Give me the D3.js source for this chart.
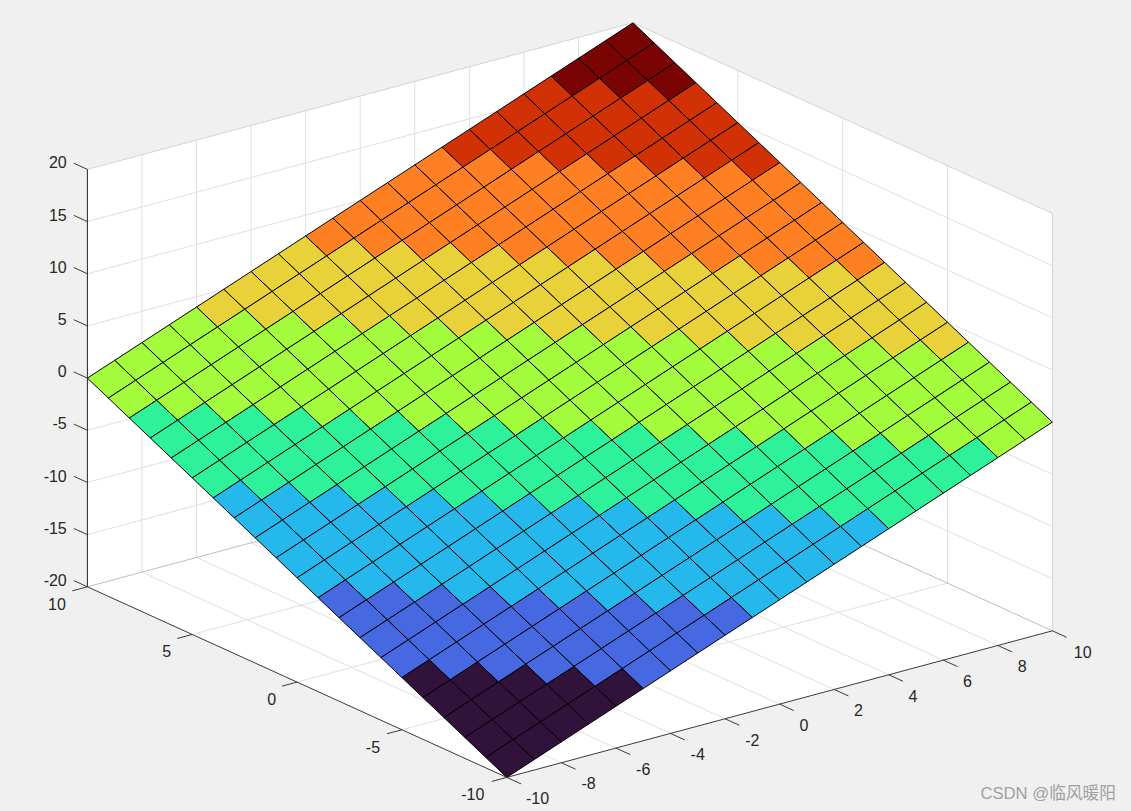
<!DOCTYPE html>
<html><head><meta charset="utf-8">
<style>html,body{margin:0;padding:0;background:#f0f0f0;overflow:hidden}svg{display:block}</style>
<script src="https://cdn.jsdelivr.net/npm/d3@7"></script></head><body><svg id="c" width="1131" height="811"></svg>
<script>
const xValues=[-10,-9,-8,-7,-6,-5,-4,-3,-2,-1,0,1,2,3,4,5,6,7,8,9,10];
const yValues=[-10,-9,-8,-7,-6,-5,-4,-3,-2,-1,0,1,2,3,4,5,6,7,8,9,10];
// z read row by row (row = y, column = x)
const zRows=[
[-20,-19,-18,-17,-16,-15,-14,-13,-12,-11,-10,-9,-8,-7,-6,-5,-4,-3,-2,-1,0],
[-19,-18,-17,-16,-15,-14,-13,-12,-11,-10,-9,-8,-7,-6,-5,-4,-3,-2,-1,0,1],
[-18,-17,-16,-15,-14,-13,-12,-11,-10,-9,-8,-7,-6,-5,-4,-3,-2,-1,0,1,2],
[-17,-16,-15,-14,-13,-12,-11,-10,-9,-8,-7,-6,-5,-4,-3,-2,-1,0,1,2,3],
[-16,-15,-14,-13,-12,-11,-10,-9,-8,-7,-6,-5,-4,-3,-2,-1,0,1,2,3,4],
[-15,-14,-13,-12,-11,-10,-9,-8,-7,-6,-5,-4,-3,-2,-1,0,1,2,3,4,5],
[-14,-13,-12,-11,-10,-9,-8,-7,-6,-5,-4,-3,-2,-1,0,1,2,3,4,5,6],
[-13,-12,-11,-10,-9,-8,-7,-6,-5,-4,-3,-2,-1,0,1,2,3,4,5,6,7],
[-12,-11,-10,-9,-8,-7,-6,-5,-4,-3,-2,-1,0,1,2,3,4,5,6,7,8],
[-11,-10,-9,-8,-7,-6,-5,-4,-3,-2,-1,0,1,2,3,4,5,6,7,8,9],
[-10,-9,-8,-7,-6,-5,-4,-3,-2,-1,0,1,2,3,4,5,6,7,8,9,10],
[-9,-8,-7,-6,-5,-4,-3,-2,-1,0,1,2,3,4,5,6,7,8,9,10,11],
[-8,-7,-6,-5,-4,-3,-2,-1,0,1,2,3,4,5,6,7,8,9,10,11,12],
[-7,-6,-5,-4,-3,-2,-1,0,1,2,3,4,5,6,7,8,9,10,11,12,13],
[-6,-5,-4,-3,-2,-1,0,1,2,3,4,5,6,7,8,9,10,11,12,13,14],
[-5,-4,-3,-2,-1,0,1,2,3,4,5,6,7,8,9,10,11,12,13,14,15],
[-4,-3,-2,-1,0,1,2,3,4,5,6,7,8,9,10,11,12,13,14,15,16],
[-3,-2,-1,0,1,2,3,4,5,6,7,8,9,10,11,12,13,14,15,16,17],
[-2,-1,0,1,2,3,4,5,6,7,8,9,10,11,12,13,14,15,16,17,18],
[-1,0,1,2,3,4,5,6,7,8,9,10,11,12,13,14,15,16,17,18,19],
[0,1,2,3,4,5,6,7,8,9,10,11,12,13,14,15,16,17,18,19,20]];
const bandColors=["#30123b","#4669e1","#25b8ed","#2ef29a","#a3fd3c","#e9d13a","#fe8022","#d23105","#7a0403"];
const xTicks=[-10,-8,-6,-4,-2,0,2,4,6,8,10];
const yTicks=[-10,-5,0,5,10];
const zTicks=[-20,-15,-10,-5,0,5,10,15,20];
const watermark="CSDN @临风暖阳";

const svg=d3.select("#c");
const F="'Liberation Sans','Noto Sans CJK SC',sans-serif";
// orthographic projection, each data axis has its own pixel scales
const xPx=d3.scaleLinear([-10,10],[0,545.6]), xPy=d3.scaleLinear([-10,10],[0,-146.6]);
const yPx=d3.scaleLinear([-10,10],[0,-419.4]), yPy=d3.scaleLinear([-10,10],[0,-190.6]);
const zPy=d3.scaleLinear([-20,20],[0,-417.4]);
const ox=506.8, oy=777.4;
const P=(x,y,z)=>[ox+xPx(x)+yPx(y), oy+xPy(x)+yPy(y)+zPy(z)];
const color=d3.scaleQuantize([-20,20],bandColors);
const line=(g,a,b,stroke,w)=>g.append("line").attr("x1",a[0]).attr("y1",a[1]).attr("x2",b[0]).attr("y2",b[1]).attr("stroke",stroke).attr("stroke-width",w||1);

// walls and floor
const poly=pts=>pts.map(p=>p.join(",")).join(" ");
svg.append("polygon").attr("fill","#fff").attr("points",poly([P(-10,10,20),P(10,10,20),P(10,-10,20),P(10,-10,-20),P(-10,-10,-20),P(-10,10,-20)]));
const grid=svg.append("g");
const GC="#e0e0e0", BC="#d4d4d4";
xTicks.slice(1,-1).forEach(x=>{line(grid,P(x,-10,-20),P(x,10,-20),GC);line(grid,P(x,10,-20),P(x,10,20),GC);});
yTicks.slice(1,-1).forEach(y=>{line(grid,P(-10,y,-20),P(10,y,-20),GC);line(grid,P(10,y,-20),P(10,y,20),GC);});
zTicks.slice(1,-1).forEach(z=>{line(grid,P(-10,10,z),P(10,10,z),GC);line(grid,P(10,10,z),P(10,-10,z),GC);});
// back box edges
line(grid,P(-10,10,20),P(10,10,20),BC);
line(grid,P(10,10,20),P(10,-10,20),BC);
line(grid,P(10,-10,20),P(10,-10,-20),BC);
line(grid,P(10,10,20),P(10,10,-20),BC);
line(grid,P(-10,10,-20),P(10,10,-20),"#bdbdbd");
line(grid,P(10,10,-20),P(10,-10,-20),"#bdbdbd");

// surface, back to front
const cells=[];
d3.range(yValues.length-2,-1,-1).forEach(j=>d3.range(xValues.length-2,-1,-1).forEach(i=>cells.push([i,j])));
svg.append("g").selectAll("polygon").data(cells).join("polygon")
 .attr("points",([i,j])=>poly([P(xValues[i],yValues[j],zRows[j][i]),P(xValues[i+1],yValues[j],zRows[j][i+1]),P(xValues[i+1],yValues[j+1],zRows[j+1][i+1]),P(xValues[i],yValues[j+1],zRows[j+1][i])]))
 .attr("fill",([i,j])=>color(zRows[j][i]))
 .attr("stroke","#000").attr("stroke-width",1).attr("stroke-linejoin","round");

// axes
const ax=svg.append("g"), AC="#262626";
line(ax,P(-10,-10,-20),P(10,-10,-20),AC,.9);
line(ax,P(-10,-10,-20),P(-10,10,-20),AC,.9);
line(ax,P(-10,10,-20),P(-10,10,20),AC,1);
const label=(p,t,anchor)=>ax.append("text").attr("x",p[0]).attr("y",p[1]).attr("dy","0.36em").attr("text-anchor",anchor||"middle").attr("font-family",F).attr("font-size",16).attr("fill",AC).text(t);
const xOff={"-10":16.5,"10":16};
const yOff={"-10":-19,"10":-15.5};
xTicks.forEach(x=>{const a=P(x,-10,-20),b=P(x,-10.68,-20);line(ax,a,b,AC,.9);
  const dx=xOff[x]!==undefined?xOff[x]:(x<0?13:10);
  label([b[0]+dx,b[1]+14.5],x);});
yTicks.forEach(y=>{const a=P(-10,y,-20),b=P(-10.55,y,-20);line(ax,a,b,AC,.9);
  const dx=yOff[y]!==undefined?yOff[y]:(y<0?-14:-10.5);
  label([b[0]+dx,b[1]+13],y);});
zTicks.forEach(z=>{const a=P(-10,10,z),b=P(-10,10.65,z);line(ax,a,b,AC,.9);
  label([b[0]-7,b[1]-0.5],z,"end");});

// watermark
svg.append("text").attr("x",1116).attr("y",799).attr("text-anchor","end").attr("font-family",F).attr("font-size",16.7).attr("fill","#a0a0a0").text(watermark);
</script></body></html>
